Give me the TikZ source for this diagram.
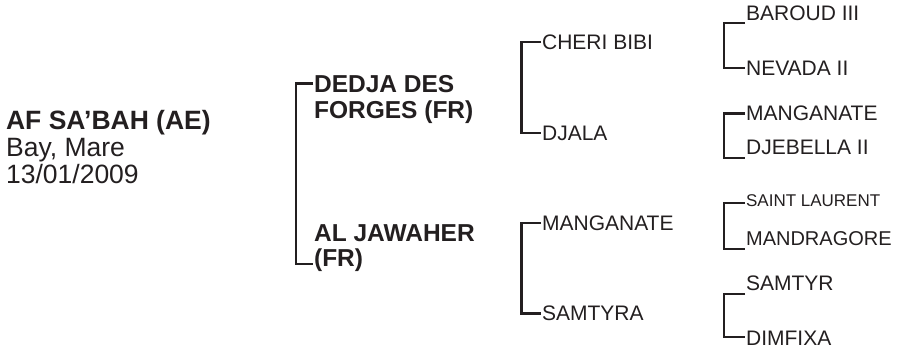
\documentclass[tikz,border=0pt]{standalone}
\usepackage{fontspec}
\setmainfont{Liberation Sans}
\usepackage{xcolor}
\definecolor{ink}{HTML}{231F20}

\begin{document}
\begin{tikzpicture}[x=1pt, y=-1pt, line width=2.2pt, draw=ink,
      root/.style = {anchor=base west, inner sep=0pt, text=ink, font=\fontsize{26.5}{30}\selectfont},
      gen1/.style = {anchor=base west, inner sep=0pt, text=ink, font=\fontsize{24.5}{26}\selectfont\bfseries},
      gen2/.style = {anchor=base west, inner sep=0pt, text=ink, font=\fontsize{21}{24}\selectfont}]
      \useasboundingbox (0,0) rectangle (906,349);

      % horse
      \node[root] (name) at (5,129)   {\bfseries AF SA’BAH (AE)};
      \node[root] (col)  at (5,156)   {Bay, Mare};
      \node[root] (dob)  at (5,183)   {13/01/2009};

      % parents
      \node[gen1] (s1) at (313,92)    {DEDJA DES};
      \node[gen1] (s2) at (313,118)   {FORGES (FR)};
      \node[gen1] (d1) at (313,241)   {AL JAWAHER};
      \node[gen1] (d2) at (313,266)   {(FR)};

      % grandparents
      \node[gen2] (ss) at (541,49.3)  {CHERI BIBI};
      \node[gen2] (sd) at (541,140)   {DJALA};
      \node[gen2] (ds) at (541,230)   {MANGANATE};
      \node[gen2] (dd) at (541,320.7) {SAMTYRA};

      % great grandparents
      \node[gen2] (sss) at (745,20.7)  {BAROUD III};
      \node[gen2] (ssd) at (745,75)    {NEVADA II};
      \node[gen2] (sds) at (745,120.7) {MANGANATE};
      \node[gen2] (sdd) at (745,154)   {DJEBELLA II};
      \node[gen2, font=\fontsize{17}{20}\selectfont] (dss) at (745,206) {SAINT LAURENT};
      \node[gen2, font=\fontsize{20}{24}\selectfont] (dsd) at (745,245) {MANDRAGORE};
      \node[gen2] (dds) at (745,290.7) {SAMTYR};
      \node[gen2] (ddd) at (745,345)   {DIMFIXA};

      \path[draw]
      (s1.west)  -| ([xshift=-17pt, yshift=2pt]d2.base west) -- ([yshift=2pt]d2.base west)
      (ss.west)  -| ([xshift=-19.5pt]sd.west) -- (sd.west)
      (ds.west)  -| ([xshift=-19.5pt]dd.west) -- (dd.west)
      ([yshift=-2pt]sss.base west) -| ([xshift=-21pt]ssd.west) -- (ssd.west)
      (sds.west) -| ([xshift=-21pt, yshift=-4pt]sdd.base west) -- ([yshift=-4pt]sdd.base west)
      ([yshift=3pt]dss.base west) -| ([xshift=-21pt, yshift=-4pt]dsd.base west) -- ([yshift=-4pt]dsd.base west)
      ([yshift=-3pt]dds.base west) -| ([xshift=-21pt, yshift=1pt]ddd.west) -- ([yshift=1pt]ddd.west);

\end{tikzpicture}
\end{document}
